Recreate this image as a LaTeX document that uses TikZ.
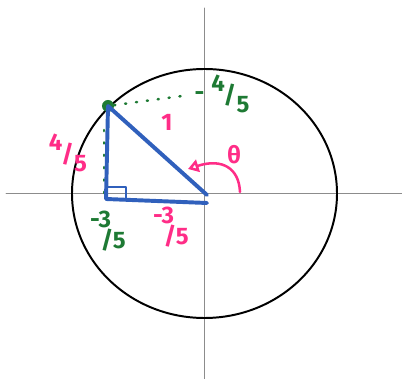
\documentclass[tikz,border=0pt]{standalone}
\usepackage{fontspec}
\setmainfont{Fira Sans}
\usepackage{tikz}
\usetikzlibrary{arrows.meta, positioning}
\definecolor{penblue}{RGB}{48,96,188}
\definecolor{pengreen}{RGB}{30,122,52}
\definecolor{penpink}{RGB}{255,45,135}
\newcommand{\slfrac}[2]{\raisebox{.4em}{#1}\kern-.05em\raisebox{-.1em}{/}\kern.02em\raisebox{-.5em}{#2}}

\begin{document}
\begin{tikzpicture}[x=0.025cm, y=-0.025cm, line cap=round, line join=round,
    greenlab/.style={text=pengreen, font=\fontsize{17}{14}\selectfont\bfseries, inner sep=0pt, align=left},
    pinklab/.style={text=penpink, font=\fontsize{17}{14}\selectfont\bfseries, inner sep=0pt, align=left}]
    \useasboundingbox (0,0) rectangle (402,379);
    % axes
    \draw[black!45, line width=0.7pt] (6,193) -- (402,193);
    \draw[black!45, line width=0.7pt] (204,8) -- (204,379);
    % unit circle
    \draw[line width=1.4pt] (204.5,193.5) ellipse [x radius=132.5, y radius=124.5];
    % point on the circle and its projections
    \node[circle, fill=pengreen, inner sep=0pt, minimum size=0.3cm] (P) at (108,106) {};
    \coordinate (Px) at (182,96);
    \coordinate (Py0) at (104,130);
    \coordinate (Py1) at (104,200);
    \draw[pengreen, line width=1.8pt, dash pattern=on 0.8pt off 7pt] (P) -- (Px);
    \draw[pengreen, line width=1.8pt, dash pattern=on 0.8pt off 8pt] (Py0) -- (Py1);
    % triangle
    \coordinate (O) at (207,195);
    \coordinate (Q) at (106,199);
    \coordinate (R) at (207,203);
    \draw[penblue, line width=2.8pt] (P.center) -- (Q) -- (R);
    \draw[penblue, line width=2.8pt] (P.center) -- (O);
    \draw[penblue, line width=1.4pt] (108,187) -| (126,199);
    % angle
    \coordinate (A0) at (240,192);
    \coordinate (A1) at (188,169);
    \draw[penpink, line width=1.8pt, -{Triangle[open, length=7.5pt, width=9pt]}]
        (A0) .. controls (239,168) and (222,158) .. (A1);
    \node[pinklab] (th) at (234,155) {θ};
    % labels
    \node[pinklab] (hyp) at (167,122) {1};
    \node[pinklab] (opp) at (68,153) {\slfrac{4}{5}};
    \node[pinklab] (adj) at (171,227) {-3\\\hspace*{.45em}/5};
    \node[greenlab] (ycoord) at (222,94) {-\kern.3em\slfrac{4}{5}};
    \node[greenlab] (xcoord) at (108,231) {-3\\\hspace*{.45em}/5};
\end{tikzpicture}
\end{document}
